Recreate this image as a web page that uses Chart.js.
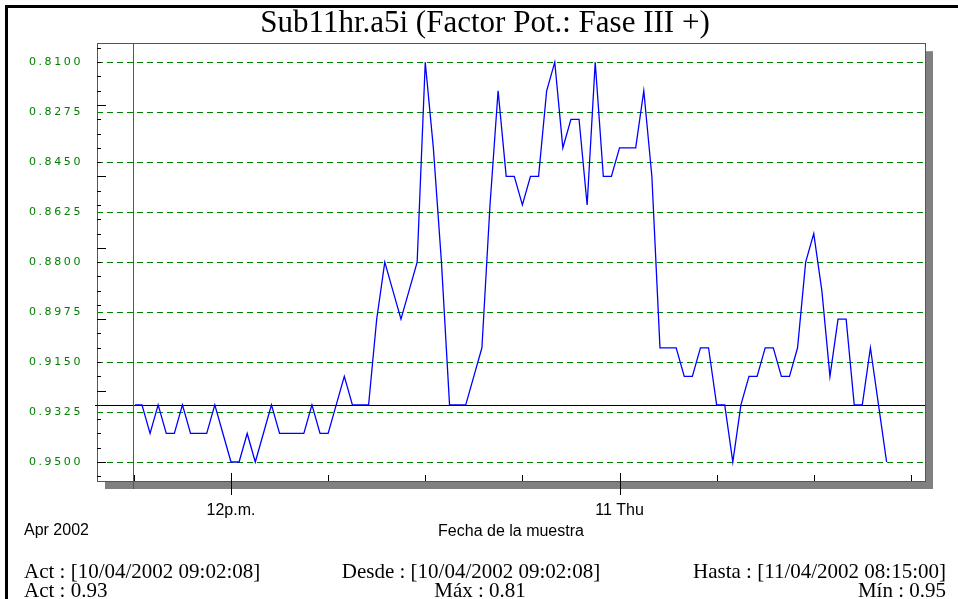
<!DOCTYPE html>
<html>
<head>
<meta charset="utf-8">
<title>Sub11hr.a5i</title>
<script src="https://cdn.jsdelivr.net/npm/chart.js@4/dist/chart.umd.min.js"></script>
<style>
html, body { margin: 0; padding: 0; background: #fff; }
#wrap { position: relative; width: 958px; height: 599px; }
</style>
</head>
<body>
<div id="wrap"><canvas id="grafico"></canvas></div>
<script>
// Horas desde el 10/04/2002 00:00 (muestras cada 15 min)
const horas = [
  9.036, 9.25, 9.5, 9.75, 10, 10.25, 10.5, 10.75, 11, 11.25, 11.5, 11.75,
  12, 12.25, 12.5, 12.75, 13, 13.25, 13.5, 13.75, 14, 14.25, 14.5, 14.75,
  15, 15.25, 15.5, 15.75, 16, 16.25, 16.5, 16.75, 17, 17.25, 17.5, 17.75,
  18, 18.25, 18.5, 18.75, 19, 19.25, 19.5, 19.75, 20, 20.25, 20.5, 20.75,
  21, 21.25, 21.5, 21.75, 22, 22.25, 22.5, 22.75, 23, 23.25, 23.5, 23.75,
  24, 24.25, 24.5, 24.75, 25, 25.25, 25.5, 25.75, 26, 26.25, 26.5, 26.75,
  27, 27.25, 27.5, 27.75, 28, 28.25, 28.5, 28.75, 29, 29.25, 29.5, 29.75,
  30, 30.25, 30.5, 30.75, 31, 31.25, 31.5, 31.75, 32, 32.25
];

// Factor de potencia fase III
const factorPot = [
  0.93, 0.93, 0.94, 0.93, 0.94, 0.94, 0.93, 0.94, 0.94, 0.94, 0.93, 0.94,
  0.95, 0.95, 0.94, 0.95, 0.94, 0.93, 0.94, 0.94, 0.94, 0.94, 0.93, 0.94,
  0.94, 0.93, 0.92, 0.93, 0.93, 0.93, 0.90, 0.88, 0.89, 0.90, 0.89, 0.88,
  0.81, 0.84, 0.88, 0.93, 0.93, 0.93, 0.92, 0.91, 0.86, 0.82, 0.85, 0.85,
  0.86, 0.85, 0.85, 0.82, 0.81, 0.84, 0.83, 0.83, 0.86, 0.81, 0.85, 0.85,
  0.84, 0.84, 0.84, 0.82, 0.85, 0.91, 0.91, 0.91, 0.92, 0.92, 0.91, 0.91,
  0.93, 0.93, 0.95, 0.93, 0.92, 0.92, 0.91, 0.91, 0.92, 0.92, 0.91, 0.88,
  0.87, 0.89, 0.92, 0.90, 0.90, 0.93, 0.93, 0.91, 0.93, 0.95
];

// Lineas de grilla del eje Y
const yTicks = [0.8100, 0.8275, 0.8450, 0.8625, 0.8800, 0.8975, 0.9150, 0.9325, 0.9500];

// Marcas del eje X (cada 3 horas) y sus etiquetas
const xTicks = [9, 12, 15, 18, 21, 24, 27, 30, 33];
const xLabels = { 12: '12p.m.', 24: '11 Thu' };

// Cursor actual
const actHora = 9.036;
const actValor = 0.93;

const titulo = 'Sub11hr.a5i (Factor Pot.: Fase III +)';
const pie = {
  act: 'Act : [10/04/2002 09:02:08]',
  desde: 'Desde : [10/04/2002 09:02:08]',
  hasta: 'Hasta : [11/04/2002 08:15:00]',
  actVal: 'Act : 0.93',
  max: 'Máx : 0.81',
  min: 'Mín : 0.95'
};

const puntos = horas.map((h, i) => ({ x: h, y: factorPot[i] }));

// Marco, sombra, marcas y cursor
const marco = {
  id: 'marco',
  beforeDraw(chart) {
    const ctx = chart.ctx, a = chart.chartArea;
    ctx.letterSpacing = '0px';
    ctx.save();
    ctx.fillStyle = '#fff';
    ctx.fillRect(0, 0, chart.width, chart.height);
    ctx.fillStyle = '#808080';
    ctx.fillRect(a.right, a.top + 8, 8, a.bottom - a.top);
    ctx.fillRect(a.left + 8, a.bottom, a.right - a.left, 8);
    ctx.fillStyle = '#000';
    ctx.fillRect(5, 5, chart.width - 5, 3);
    ctx.fillRect(5, 5, 3, chart.height - 5);
    ctx.restore();
  },
  beforeDatasetsDraw(chart) {
    const ctx = chart.ctx, a = chart.chartArea;
    const sx = chart.scales.x, sy = chart.scales.y;
    ctx.save();
    ctx.strokeStyle = '#555';
    ctx.lineWidth = 1;
    ctx.strokeRect(Math.round(a.left) + 0.5, Math.round(a.top) + 0.5,
      Math.round(a.right - a.left), Math.round(a.bottom - a.top));

    // marcas menores eje Y cada 0.005
    ctx.strokeStyle = '#000';
    ctx.beginPath();
    for (let k = 161; k <= 191; k++) {
      const v = k / 200;
      const py = Math.round(sy.getPixelForValue(v)) + 0.5;
      if (py < a.top || py > a.bottom) continue;
      const largo = (k % 5 === 0) ? 9 : 4;
      ctx.moveTo(a.left, py);
      ctx.lineTo(a.left + largo, py);
    }
    // marcas eje X
    xTicks.forEach(t => {
      const px = Math.round(sx.getPixelForValue(t)) + 0.5;
      if (xLabels[t]) {
        ctx.moveTo(px, a.bottom - 8);
        ctx.lineTo(px, a.bottom + 14);
      } else {
        ctx.moveTo(px, a.bottom - 6);
        ctx.lineTo(px, a.bottom);
      }
    });
    ctx.stroke();

    // cursor actual
    const cy = Math.round(sy.getPixelForValue(actValor)) + 0.5;
    const cx = Math.round(sx.getPixelForValue(actHora)) - 1.5;
    ctx.strokeStyle = '#000';
    ctx.beginPath();
    ctx.moveTo(a.left - 2, cy);
    ctx.lineTo(a.right, cy);
    ctx.stroke();
    ctx.strokeStyle = '#555';
    ctx.beginPath();
    ctx.moveTo(cx, a.top);
    ctx.lineTo(cx, a.bottom + 8);
    ctx.stroke();
    ctx.restore();
  },
  afterDatasetsDraw(chart) {
    // etiquetas del eje Y espaciadas
    chart.ctx.letterSpacing = '2.6px';
  },
  afterDraw(chart) {
    const ctx = chart.ctx;
    ctx.letterSpacing = '0px';
    ctx.save();
    ctx.fillStyle = '#000';
    ctx.textBaseline = 'middle';
    ctx.font = '16px "Liberation Sans", Arial, sans-serif';
    ctx.textAlign = 'left';
    ctx.fillText('Apr 2002', 24, 531);

    ctx.font = '21px "Liberation Serif", "Times New Roman", serif';
    ctx.textAlign = 'left';
    ctx.fillText(pie.act, 24, 572);
    ctx.fillText(pie.actVal, 24, 591);
    ctx.textAlign = 'center';
    ctx.fillText(pie.desde, 471, 572);
    ctx.fillText(pie.max, 480, 591);
    ctx.textAlign = 'right';
    ctx.fillText(pie.hasta, 946, 572);
    ctx.fillText(pie.min, 946, 591);
    ctx.restore();
  }
};

const ctx = document.getElementById('grafico').getContext('2d');
const grafico = new Chart(ctx, {
  type: 'line',
  data: {
    datasets: [{
      data: puntos,
      borderColor: '#0000ff',
      borderWidth: 1.3,
      pointRadius: 0,
      tension: 0,
      fill: false
    }]
  },
  options: {
    responsive: true,
    maintainAspectRatio: false,
    animation: false,
    devicePixelRatio: 1,
    layout: { padding: { left: 12, right: 0, top: 0, bottom: 0 } },
    plugins: {
      legend: { display: false },
      tooltip: { enabled: false },
      title: {
        display: true,
        text: titulo,
        color: '#000',
        font: { family: '"Liberation Serif", "Times New Roman", serif', size: 31, weight: 'normal', lineHeight: 1.2 },
        padding: { top: 5, bottom: 1 }
      }
    },
    scales: {
      x: {
        type: 'linear',
        min: 7.861,
        max: 33.436,
        afterBuildTicks: (s) => { s.ticks = xTicks.map(v => ({ value: v })); },
        afterFit: (s) => { s.height = 118; },
        grid: { display: false, drawTicks: false },
        border: { display: false },
        ticks: {
          autoSkip: false,
          maxRotation: 0,
          padding: 20,
          color: '#000',
          font: { family: '"Liberation Sans", Arial, sans-serif', size: 16 },
          callback: (v) => xLabels[v] || ''
        },
        title: {
          display: true,
          text: 'Fecha de la muestra',
          color: '#000',
          font: { family: '"Liberation Sans", Arial, sans-serif', size: 16 },
          padding: { top: 0, bottom: 58 }
        }
      },
      y: {
        reverse: true,
        min: 0.80335,
        max: 0.95665,
        afterBuildTicks: (s) => { s.ticks = yTicks.map(v => ({ value: v })); },
        afterFit: (s) => { s.width = 85; },
        grid: { color: '#008000', lineWidth: 1, drawTicks: false },
        border: { display: false, dash: [6, 4] },
        ticks: {
          z: 1,
          padding: 14,
          color: '#008000',
          font: { family: '"DejaVu Sans", sans-serif', size: 11 },
          callback: (v) => Number(v).toFixed(4)
        }
      },
      yDer: {
        position: 'right',
        display: true,
        afterFit: (s) => { s.width = 33; },
        grid: { display: false, drawTicks: false },
        border: { display: false },
        ticks: { display: false }
      }
    }
  },
  plugins: [marco]
});
</script>
</body>
</html>
